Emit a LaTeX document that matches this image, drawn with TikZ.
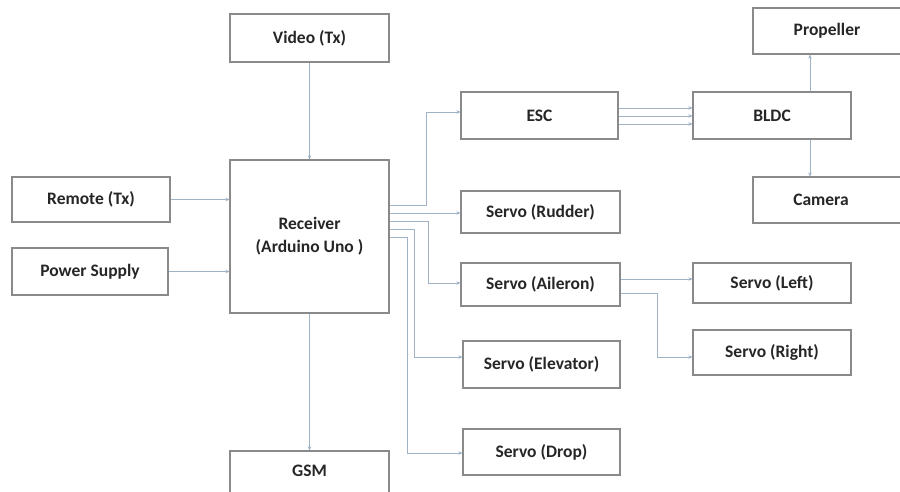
\documentclass[tikz,border=0pt]{standalone}
\usepackage{fontspec}
\setmainfont{Carlito}
\usetikzlibrary{arrows.meta}
\definecolor{boxline}{HTML}{8A8A8A}
\definecolor{wire}{HTML}{9FB2C6}
\begin{document}
\begin{tikzpicture}[x=1pt,y=-1pt,
  blktext/.style={font=\fontsize{17.5}{23}\selectfont\bfseries,text=black!85},
  blk/.style={blktext,draw=boxline,line width=1.1pt,fill=white,inner sep=0pt,align=center},
  wirearrow/.style={draw=wire,line width=0.9pt,-{Stealth[length=4pt,width=3.5pt]}}]
\useasboundingbox (0,0) rectangle (900,492);
\fill[white] (0,0) rectangle (900,492);
\newcommand{\blkbox}[6]{\node[blk,minimum width=#4-#2,minimum height=#5-#3] (#1) at ({(#2+#4)/2},{(#3+#5)/2}) {#6};}
\blkbox{video}{230}{14}{389}{62}{Video (Tx)}
\blkbox{rx}{230}{160}{389}{313}{Receiver\\(Arduino Uno )}
\blkbox{remote}{12}{177}{170}{222}{Remote (Tx)}
\blkbox{power}{12}{248}{168}{295}{Power Supply}
\node[blk,minimum width=159,minimum height=50] (gsm) at (309.5,476) {};
\node[blktext] (gsmt) at (309.5,471) {GSM};
\blkbox{esc}{461}{92}{618}{139}{ESC}
\blkbox{rud}{461}{191}{620}{233}{Servo (Rudder)}
\blkbox{ail}{461}{263}{620}{306}{Servo (Aileron)}
\blkbox{ele}{463}{341}{620}{388}{Servo (Elevator)}
\blkbox{drop}{463}{429}{620}{475}{Servo (Drop)}
\blkbox{bldc}{693}{92}{851}{139}{BLDC}
\node[blk,minimum width=148,minimum height=46] (prop) at (827,31) {Propeller};
\node[blk,minimum width=148,minimum height=46] (cam) at (827,200) {\hspace*{-12pt}Camera};
\blkbox{left}{693}{263}{851}{303}{Servo (Left)}
\blkbox{right}{693}{330}{851}{375}{Servo (Right)}
% connectors
\draw[wirearrow] (video.south) -- (rx.north);
\draw[wirearrow] (remote.east) -- (remote.east -| rx.west);
\draw[wirearrow] (power.east) -- (power.east -| rx.west);
\draw[wirearrow] (rx.south) -- (gsm.north);
\coordinate (e1) at (426,205);
\coordinate (e2) at (426,112);
\draw[wirearrow] (rx.east |- e1) -- (e1) -- (e2) -- (e2 -| esc.west);
\draw[wirearrow] (rx.east |- 0,213) -- (rud.west |- 0,213);
\draw[wirearrow] (rx.east |- 0,221) -- (428,221) -- (428,283) -- (ail.west |- 0,283);
\draw[wirearrow] (rx.east |- 0,229) -- (414,229) -- (414,357) -- (ele.west |- 0,357);
\draw[wirearrow] (rx.east |- 0,237) -- (407,237) -- (407,453) -- (drop.west |- 0,453);
\foreach \yy in {108,116,124}{
  \draw[wirearrow] (esc.east |- 0,\yy) -- (bldc.west |- 0,\yy);
}
\draw[wirearrow] (bldc.north -| 810,0) -- (prop.south -| 810,0);
\draw[wirearrow] (bldc.south -| 810,0) -- (cam.north -| 810,0);
\draw[wirearrow] (ail.east |- 0,279) -- (left.west |- 0,279);
\draw[wirearrow] (ail.east |- 0,293) -- (657,293) -- (657,357) -- (right.west |- 0,357);
\end{tikzpicture}
\end{document}
